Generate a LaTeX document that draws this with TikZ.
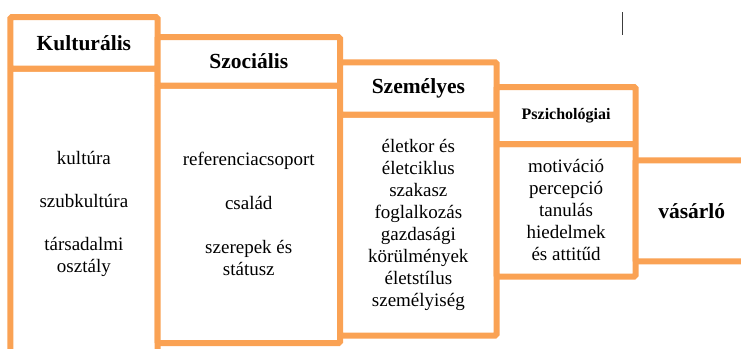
\documentclass[tikz,border=0pt]{standalone}
\usepackage{fontspec}
\setmainfont{Liberation Serif}
\newfontfamily\tnr{Liberation Serif}
\definecolor{framec}{RGB}{250,162,84}
\definecolor{cursorc}{RGB}{60,60,60}
\begin{document}
\begin{tikzpicture}[x=1pt,y=-1pt,
  box/.style={draw=framec, line width=6pt, fill=white, rectangle, outer sep=0pt, inner sep=0pt, anchor=north west, rounded corners=1.5pt},
  hdr/.style={box, font=\tnr\fontsize{21.5}{24}\selectfont\bfseries},
  smallhdr/.style={box, font=\tnr\fontsize{16}{18}\selectfont\bfseries},
  bodytxt/.style={box, align=center, font=\tnr\fontsize{19}{22}\selectfont},
  cursorline/.style={draw=cursorc, line width=1.5pt}
]
\useasboundingbox (0,0) rectangle (741,348);
\clip (0,0) rectangle (741,348);
% Kulturalis
\node[bodytxt, minimum width=147.2pt, minimum height=290pt] (kb) at (10.3,68.5)
  {kultúra\\[21pt]szubkultúra\\[21pt]társadalmi\\osztály};
\node[hdr, minimum width=147.2pt, minimum height=51.5pt] (kh) at (10.3,17) {Kulturális};
% Szocialis
\node[bodytxt, minimum width=182.5pt, minimum height=257.3pt] (sb) at (157.5,85.7)
  {referenciacsoport\\[22pt]család\\[22pt]szerepek és\\státusz};
\node[hdr, minimum width=182.5pt, minimum height=48.7pt] (sh) at (157.5,37) {Szociális};
% Szemelyes
\node[bodytxt, minimum width=156.7pt, minimum height=220.8pt] (zb) at (340,114.7)
  {életkor és\\életciklus\\szakasz\\foglalkozás\\gazdasági\\körülmények\\életstílus\\személyiség};
\node[hdr, minimum width=156.7pt, minimum height=52.4pt] (zh) at (340,62.3) {Személyes};
% Pszichologiai
\node[bodytxt, minimum width=138.8pt, minimum height=132.5pt] (pb) at (496.7,144)
  {motiváció\\percepció\\tanulás\\hiedelmek\\és attitűd};
\node[smallhdr, minimum width=138.8pt, minimum height=57pt] (ph) at (496.7,87) {Pszichológiai};
% vasarlo
\node[hdr, minimum width=112.5pt, minimum height=101pt] (v) at (635.5,160.3) {vásárló};
% cursor mark
\coordinate (c1) at (622.7,12);
\coordinate (c2) at (622.7,35);
\draw[cursorline] (c1) -- (c2);
\end{tikzpicture}
\end{document}
